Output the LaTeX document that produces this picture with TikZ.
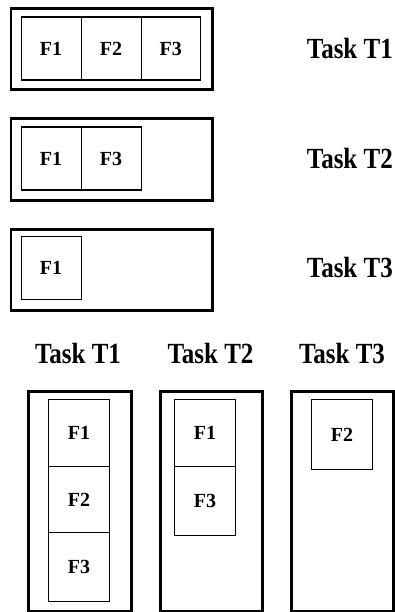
\documentclass[tikz,border=0pt]{standalone}
\usepackage{fontspec}
\usepackage{graphicx}
\setmainfont{Liberation Serif}
\newcommand{\tasktext}[1]{\scalebox{1}[1.17]{#1}}
\begin{document}
\begin{tikzpicture}[x=1pt,y=-1pt,
  frame/.style={draw, line width=2.6pt, anchor=north west, inner sep=0pt},
  cell/.style={draw, line width=1.2pt, anchor=north west, inner sep=0pt,
    font=\fontsize{20}{22}\selectfont\bfseries},
  tasklbl/.style={font=\fontsize{25}{28}\selectfont\bfseries, inner sep=0pt}]
\useasboundingbox (0,0) rectangle (395,612);

% horizontal layouts: one frame per task, cells side by side
\node[frame, minimum width=201.5pt, minimum height=81pt] (h1) at (9.5,7.5) {};
\node[cell, minimum width=60pt, minimum height=63pt] (h1a) at (20.5,16.5) {F1};
\node[cell, minimum width=60pt, minimum height=63pt] (h1b) at (80.5,16.5) {F2};
\node[cell, minimum width=59.5pt, minimum height=63pt] (h1c) at (140.5,16.5) {F3};
\node[tasklbl, anchor=east] (lh1) at (393,48) {\tasktext{Task T1}};

\node[frame, minimum width=201.5pt, minimum height=82pt] (h2) at (9.5,117) {};
\node[cell, minimum width=60pt, minimum height=63pt] (h2a) at (20.5,126.5) {F1};
\node[cell, minimum width=60pt, minimum height=63pt] (h2b) at (80.5,126.5) {F3};
\node[tasklbl, anchor=east] (lh2) at (393,158) {\tasktext{Task T2}};

\node[frame, minimum width=201.5pt, minimum height=81pt] (h3) at (9.5,228) {};
\node[cell, minimum width=60pt, minimum height=63pt] (h3a) at (20.5,236) {F1};
\node[tasklbl, anchor=east] (lh3) at (393,267) {\tasktext{Task T3}};

% vertical layouts: titles above, cells stacked
\node[tasklbl] (lv1) at (78,353) {\tasktext{Task T1}};
\node[tasklbl] (lv2) at (210.5,353) {\tasktext{Task T2}};
\node[tasklbl] (lv3) at (342,353) {\tasktext{Task T3}};

\node[frame, minimum width=103pt, minimum height=220pt] (v1) at (27,390) {};
\node[cell, minimum width=61pt, minimum height=67pt] (v1a) at (48,399) {F1};
\node[cell, minimum width=61pt, minimum height=66pt] (v1b) at (48,466) {F2};
\node[cell, minimum width=61pt, minimum height=69pt] (v1c) at (48,532) {F3};

\node[frame, minimum width=102pt, minimum height=220pt] (v2) at (159,390) {};
\node[cell, minimum width=61pt, minimum height=67pt] (v2a) at (174,399) {F1};
\node[cell, minimum width=61pt, minimum height=69pt] (v2b) at (174,466) {F3};

\node[frame, minimum width=102pt, minimum height=220pt] (v3) at (290,390) {};
\node[cell, minimum width=61pt, minimum height=70pt] (v3a) at (311,399) {F2};
\end{tikzpicture}
\end{document}
